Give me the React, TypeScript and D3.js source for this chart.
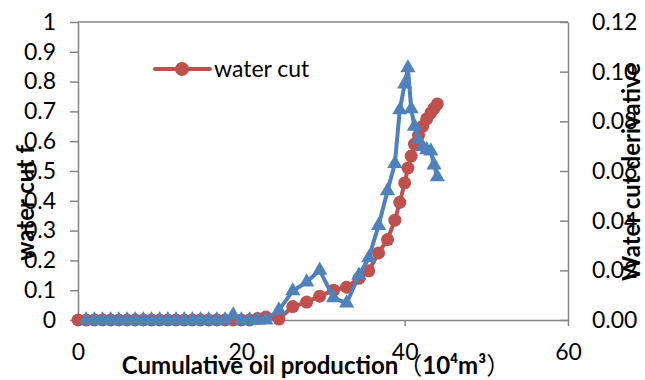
import React, { useEffect, useRef } from 'react';
import * as d3 from 'd3';

// cumulative oil production, 10^4 m3
const cumOil = [
  0, 1, 2, 3, 4, 5, 6, 7, 8, 9, 10, 11, 12, 13, 14, 15, 16, 17, 18, 19, 20, 21, 22, 23,
  24.6, 26.3, 28.0, 29.6, 31.3, 32.9, 34.4, 35.6, 36.8, 37.9, 38.8, 39.4, 40.0, 40.4,
  40.8, 41.2, 41.7, 42.2, 42.7, 43.2, 43.6, 44.0,
];

// water cut f (left axis)
const waterCut = [
  0, 0, 0, 0, 0, 0, 0, 0, 0, 0, 0, 0, 0, 0, 0, 0, 0, 0, 0, 0, 0, 0, 0.005, 0.01,
  0.003, 0.045, 0.06, 0.08, 0.1, 0.11, 0.14, 0.165, 0.225, 0.27, 0.335, 0.395, 0.46, 0.51,
  0.55, 0.59, 0.62, 0.65, 0.675, 0.695, 0.71, 0.725,
];

// water cut derivative (right axis), first point has none
const derivative = [
  null, 0, 0, 0, 0, 0, 0, 0, 0, 0, 0, 0, 0, 0, 0, 0, 0, 0, 0, 0.002, 0, 0, 0, 0,
  0.004, 0.0117, 0.0153, 0.02, 0.0089, 0.0068, 0.018, 0.025, 0.038, 0.052, 0.063, 0.0846, 0.095, 0.1015,
  0.085, 0.078, 0.0725, 0.0697, 0.0685, 0.068, 0.0624, 0.0576,
];

const xTicks = [0, 20, 40, 60];
const leftTicks = [0, 0.1, 0.2, 0.3, 0.4, 0.5, 0.6, 0.7, 0.8, 0.9, 1];
const rightTicks = [0, 0.02, 0.04, 0.06, 0.08, 0.1, 0.12];

const App = () => {
  const svgRef = useRef(null);

  useEffect(() => {
    const svg = d3.select(svgRef.current);
    svg.selectAll('*').remove();

    const left = 78, right = 568, top = 22, bottom = 320;
    const axisColor = '#868686';
    const red = '#C0504D';
    const blue = '#4F81BD';
    const font = 'Lato, "Noto Sans CJK SC", sans-serif';
    const cjk = '"Noto Sans CJK SC", sans-serif';

    const x = d3.scaleLinear().domain([0, 60]).range([left, right]);
    const yL = d3.scaleLinear().domain([0, 1]).range([bottom, top]);
    const yR = d3.scaleLinear().domain([0, 0.12]).range([bottom, top]);

    // top border line
    svg.append('line')
      .attr('x1', left).attr('x2', right).attr('y1', top).attr('y2', top)
      .attr('stroke', axisColor).attr('stroke-width', 1.5);

    // bottom axis
    const xAxis = svg.append('g')
      .attr('transform', `translate(0,${bottom})`)
      .call(d3.axisBottom(x).tickValues(xTicks).tickSize(6).tickSizeOuter(0).tickPadding(18));

    // left axis
    const yAxisL = svg.append('g')
      .attr('transform', `translate(${left},0)`)
      .call(d3.axisLeft(yL).tickValues(leftTicks).tickFormat(d3.format('')).tickSize(8).tickSizeOuter(0).tickPadding(14));

    // right axis, ticks pointing inside
    const yAxisR = svg.append('g')
      .attr('transform', `translate(${right},0)`)
      .call(d3.axisRight(yR).tickValues(rightTicks).tickFormat(d3.format('.2f')).tickSize(-8).tickSizeOuter(0).tickPadding(24));

    [xAxis, yAxisL, yAxisR].forEach((g) => {
      g.select('.domain').attr('stroke', axisColor).attr('stroke-width', 1.5);
      g.selectAll('.tick line').attr('stroke', axisColor).attr('stroke-width', 1.5);
      g.selectAll('.tick text')
        .attr('fill', '#000')
        .style('font-family', font)
        .style('font-size', '23px');
    });

    // water cut series
    const redPts = cumOil.map((c, i) => ({ x: c, y: waterCut[i] }));
    svg.append('path')
      .datum(redPts)
      .attr('fill', 'none')
      .attr('stroke', red)
      .attr('stroke-width', 4)
      .attr('stroke-linejoin', 'round')
      .attr('d', d3.line().x((d) => x(d.x)).y((d) => yL(d.y)));
    svg.append('g')
      .selectAll('circle')
      .data(redPts)
      .enter()
      .append('circle')
      .attr('cx', (d) => x(d.x))
      .attr('cy', (d) => yL(d.y))
      .attr('r', 6.5)
      .attr('fill', red);

    // derivative series
    const bluePts = cumOil
      .map((c, i) => ({ x: c, y: derivative[i] }))
      .filter((d) => d.y !== null);
    svg.append('path')
      .datum(bluePts)
      .attr('fill', 'none')
      .attr('stroke', blue)
      .attr('stroke-width', 4)
      .attr('stroke-linejoin', 'round')
      .attr('d', d3.line().x((d) => x(d.x)).y((d) => yR(d.y)));
    svg.append('g')
      .selectAll('path')
      .data(bluePts)
      .enter()
      .append('path')
      .attr('transform', (d) => `translate(${x(d.x)},${yR(d.y)})`)
      .attr('d', d3.symbol().type(d3.symbolTriangle).size(100))
      .attr('fill', blue);

    // legend
    svg.append('line')
      .attr('x1', 155).attr('x2', 210).attr('y1', 69).attr('y2', 69)
      .attr('stroke', red).attr('stroke-width', 4).attr('stroke-linecap', 'round');
    svg.append('circle').attr('cx', 182).attr('cy', 69).attr('r', 7).attr('fill', red);
    svg.append('text')
      .attr('x', 214).attr('y', 77)
      .style('font-family', font).style('font-size', '23px')
      .text('water cut');

    // axis titles
    const xTitle = svg.append('text')
      .attr('x', 316).attr('y', 374)
      .attr('text-anchor', 'middle')
      .style('font-family', font).style('font-size', '24px').style('font-weight', 'bold');
    xTitle.append('tspan').text('Cumulative oil production');
    xTitle.append('tspan').style('font-family', cjk).style('font-weight', 'normal').text('（');
    xTitle.append('tspan').text('10⁴m³');
    xTitle.append('tspan').style('font-family', cjk).style('font-weight', 'normal').text('）');

    svg.append('text')
      .attr('transform', 'translate(34,203) rotate(-90)')
      .attr('text-anchor', 'middle')
      .style('font-family', font).style('font-size', '24px').style('font-weight', 'bold')
      .text('water cut f');

    svg.append('text')
      .attr('transform', 'translate(640,172) rotate(-90)')
      .attr('text-anchor', 'middle')
      .style('font-family', font).style('font-size', '24px').style('font-weight', 'bold')
      .text('Water cut derivative');
  }, []);

  return (
    <svg
      ref={svgRef}
      width={645}
      height={380}
      style={{ position: 'absolute', left: 0, top: 0, background: '#fff' }}
    />
  );
};

export default App;
